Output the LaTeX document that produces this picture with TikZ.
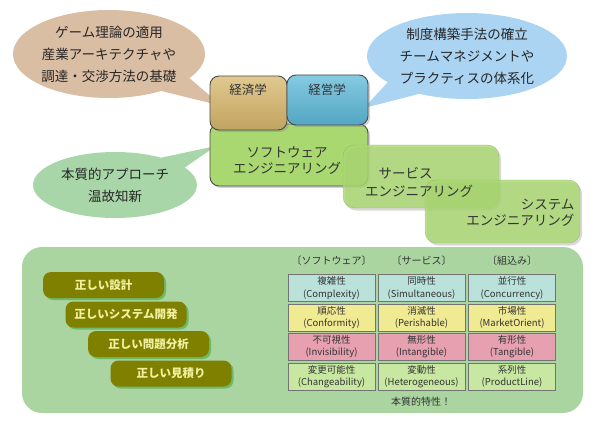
\documentclass[tikz,border=0pt]{standalone}
\usepackage{fontspec}
\setmainfont{Noto Sans CJK JP}
\usetikzlibrary{shapes.callouts, shadows, positioning}
\definecolor{bubbletan}{RGB}{218,190,164}
\definecolor{bubbleblue}{RGB}{170,212,242}
\definecolor{bubblegreen}{RGB}{168,214,168}
\definecolor{econtan}{RGB}{214,182,106}
\definecolor{mgmtblue}{RGB}{92,184,216}
\definecolor{swgreen}{RGB}{170,216,112}
\definecolor{panelgreen}{RGB}{170,212,160}
\definecolor{olivebtn}{RGB}{128,128,0}
\definecolor{btntext}{RGB}{240,240,160}
\definecolor{cellcyan}{RGB}{186,226,218}
\definecolor{cellyellow}{RGB}{240,234,146}
\definecolor{cellpink}{RGB}{230,160,176}
\definecolor{cellgreen}{RGB}{200,232,162}

\tikzset{
  bubble/.style={ellipse callout, inner sep=0pt, align=center, callout pointer arc=24,
    text=black!85, font=\fontsize{13.5}{22}\selectfont},
  field/.style={draw=black!70, line width=0.9pt, rounded corners=9pt,
    drop shadow={shadow xshift=2pt, shadow yshift=-2pt, opacity=0.35}},
  subfield/.style={fill=swgreen, fill opacity=0.82, draw=swgreen!60!black, draw opacity=0.35,
    rounded corners=11pt, minimum width=156pt, minimum height=63pt,
    drop shadow={shadow xshift=2pt, shadow yshift=-2.5pt, opacity=0.3}},
  fieldtext/.style={text=black!80, font=\fontsize{13.5}{16}\selectfont},
  rightway/.style={fill=olivebtn, rounded corners=8pt, text=btntext,
    minimum width=121pt, minimum height=26pt, font=\bfseries\fontsize{11.5}{12}\selectfont,
    drop shadow={shadow xshift=2pt, shadow yshift=-2pt, fill=green!55!black, opacity=0.35}},
  cell/.style={draw=black!55, minimum width=87pt, minimum height=27pt, inner sep=1pt,
    align=center, text=black!80, font=\fontsize{9.5}{12.5}\selectfont},
  head/.style={text=black!80, font=\fontsize{10}{12}\selectfont}
}

\begin{document}
\begin{tikzpicture}[x=1pt, y=-1pt]
    \useasboundingbox (0,0) rectangle (600,425);

    % Speech bubbles
    \node[bubble, fill=bubbletan, minimum width=192pt, minimum height=88pt,
      callout absolute pointer={(222,106)}] (econnote) at (109,54)
      {ゲーム理論の適用\\産業アーキテクチャや\\調達・交渉方法の基礎};
    \node[bubble, fill=bubbleblue, minimum width=200pt, minimum height=86pt,
      callout absolute pointer={(364,108)}] (mgmtnote) at (467,56)
      {制度構築手法の確立\\チームマネジメントや\\プラクティスの体系化};
    \node[bubble, fill=bubblegreen, minimum width=164pt, minimum height=66pt,
      callout absolute pointer={(216,146)}] (swnote) at (115,185)
      {本質的アプローチ\\温故知新};

    % Engineering fields
    \node[field, fill=swgreen, minimum width=158pt, minimum height=62pt] (software) at (289,155) {};
    \node[field, top color=econtan!75!white, bottom color=econtan!90!black,
      minimum width=77pt, minimum height=54pt] (econ) at (248.5,103) {};
    \node[field, top color=mgmtblue!75!white, bottom color=mgmtblue!90!black,
      minimum width=81pt, minimum height=50pt] (mgmt) at (327.5,100) {};
    \node[subfield] (service) at (421,176.5) {};
    \node[subfield, minimum width=155pt] (system) at (502.5,211.5) {};

    \node[fieldtext, font=\fontsize{12.5}{14}\selectfont] (econlbl) at (248,90) {経済学};
    \node[fieldtext, font=\fontsize{12.5}{14}\selectfont] (mgmtlbl) at (327,90) {経営学};
    \node[fieldtext, align=center] (swlbl) at (287,161) {ソフトウェア\\エンジニアリング};
    \node[fieldtext, align=left, font=\fontsize{13.5}{18}\selectfont] (servicelbl) at (419,182)
      {\hspace*{1em}サービス\\エンジニアリング};
    \node[fieldtext, align=right, anchor=east, font=\fontsize{13.5}{15.5}\selectfont] (systemlbl) at (578,213)
      {システム\\エンジニアリング};

    % Lower panel
    \fill[panelgreen, rounded corners=20pt] (22,247) rectangle (583,413);

    \foreach \t [count=\i] in {正しい設計, 正しいシステム開発, 正しい問題分析, 正しい見積り}
      \node[rightway] (way\i) at ({103.5+22.5*(\i-1)}, {285+29.5*(\i-1)}) {\t};

    % Essential properties table
    \node[head] (hsw) at (331.5,261) {〔ソフトウェア〕};
    \node[head] (hsv) at (421.5,261) {〔サービス〕};
    \node[head] (hemb) at (512,261) {〔組込み〕};

    \node[cell, fill=cellcyan] (c11) at (331.5,288) {複雑性\\(Complexity)};
    \node[cell, fill=cellcyan] (c12) at (421.5,288) {同時性\\(Simultaneous)};
    \node[cell, fill=cellcyan] (c13) at (512,288) {並行性\\(Concurrency)};

    \node[cell, fill=cellyellow] (c21) at (331.5,317.5) {順応性\\(Conformity)};
    \node[cell, fill=cellyellow] (c22) at (421.5,317.5) {消滅性\\(Perishable)};
    \node[cell, fill=cellyellow] (c23) at (512,317.5) {市場性\\(MarketOrient)};

    \node[cell, fill=cellpink] (c31) at (331.5,346.5) {不可視性\\(Invisibility)};
    \node[cell, fill=cellpink] (c32) at (421.5,346.5) {無形性\\(Intangible)};
    \node[cell, fill=cellpink] (c33) at (512,346.5) {有形性\\(Tangible)};

    \node[cell, fill=cellgreen] (c41) at (331.5,376.5) {変更可能性\\(Changeability)};
    \node[cell, fill=cellgreen] (c42) at (421.5,376.5) {変動性\\(Heterogeneous)};
    \node[cell, fill=cellgreen] (c43) at (512,376.5) {系列性\\(ProductLine)};

    \node[head] (essence) at (421,402) {本質的特性！};
\end{tikzpicture}
\end{document}
